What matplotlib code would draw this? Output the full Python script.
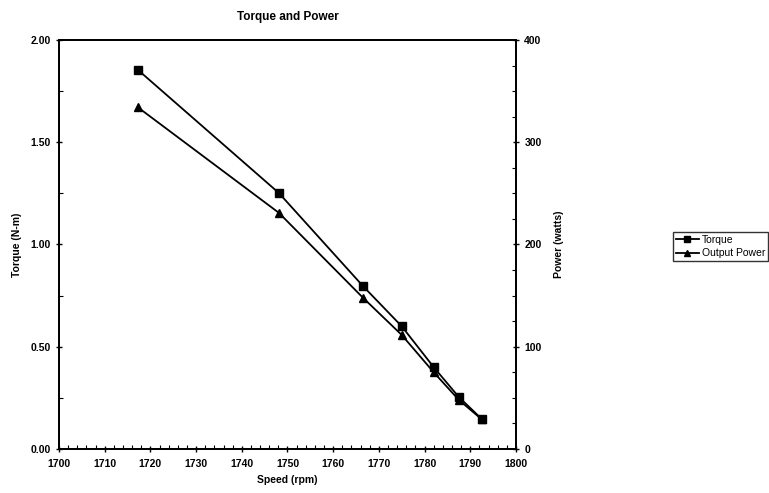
import numpy as np
import matplotlib.pyplot as plt
from matplotlib.ticker import MultipleLocator, FormatStrFormatter

plt.rcParams['font.family'] = ['Liberation Sans', 'DejaVu Sans']

# Datos
speed = np.array([1717.3, 1748.1, 1766.5, 1775.0, 1782.0, 1787.5, 1792.5])
torque = np.array([1.853, 1.252, 0.797, 0.600, 0.400, 0.254, 0.147])
power = np.array([334, 231, 148, 111.5, 75, 48, 29])

fig = plt.figure(figsize=(7.69, 4.93), dpi=100)
ax = fig.add_axes([0.0767, 0.0892, 0.5943, 0.8298])
ax2 = ax.twinx()

l1, = ax.plot(speed, torque, '-', color='black', lw=1.3, marker='s', ms=5.5, label='Torque')
l2, = ax2.plot(speed, power, '-', color='black', lw=1.3, marker='^', ms=5.5, label='Output Power')

ax.set_xlim(1700, 1800)
ax.set_ylim(0, 2.0)
ax2.set_ylim(0, 400)

ax.xaxis.set_major_locator(MultipleLocator(10))
ax.xaxis.set_minor_locator(MultipleLocator(2))
ax.yaxis.set_major_locator(MultipleLocator(0.5))
ax.yaxis.set_minor_locator(MultipleLocator(0.25))
ax.yaxis.set_major_formatter(FormatStrFormatter('%.2f'))
ax2.yaxis.set_major_locator(MultipleLocator(100))
ax2.yaxis.set_minor_locator(MultipleLocator(25))

for a in (ax, ax2):
    a.tick_params(which='major', direction='inout', length=5, width=1, labelsize=7.5)
    a.tick_params(which='minor', direction='in', length=3, width=0.8)
    for s in a.spines.values():
        s.set_linewidth(1.3)
ax.tick_params(axis='x', pad=5)
for t in ax.get_xticklabels() + ax.get_yticklabels() + ax2.get_yticklabels():
    t.set_fontweight('bold')

ax.set_xlabel('Speed (rpm)', fontsize=7.5, fontweight='bold')
ax.set_ylabel('Torque (N-m)', fontsize=7.5, fontweight='bold', labelpad=6)
ax2.set_ylabel('Power (watts)', fontsize=7.5, fontweight='bold', labelpad=9)
ax.set_title('Torque and Power', fontsize=8.5, fontweight='bold', pad=14)

fig.legend(handles=[l1, l2], loc='upper left', bbox_to_anchor=(0.868, 0.54),
           fontsize=7.5, frameon=True, fancybox=False, edgecolor='black',
           handlelength=2.2, borderpad=0.3, labelspacing=0.3, handletextpad=0.3,
           markerscale=0.8)

fig.savefig('out.png', dpi=100)
